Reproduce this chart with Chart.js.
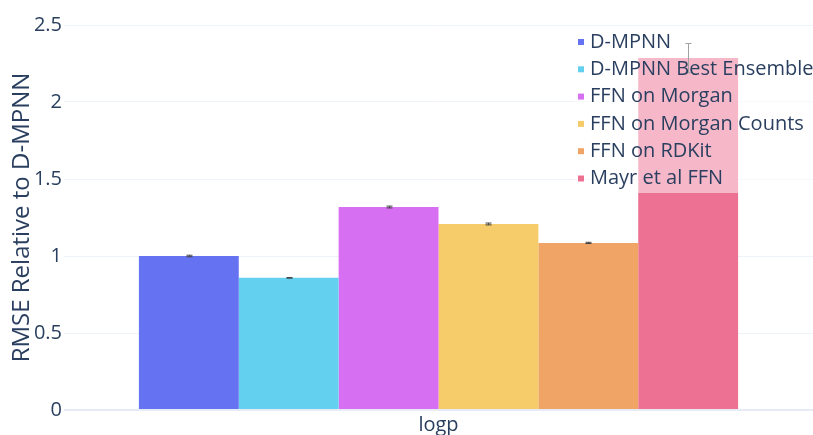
<!DOCTYPE html>
<html>
<head>
<meta charset="utf-8">
<script src="https://cdn.jsdelivr.net/npm/chart.js@4"></script>
<style>
  html, body { margin: 0; padding: 0; background: #fff; }
  #wrap { width: 813px; height: 435px; }
</style>
</head>
<body>
<div id="wrap"><canvas id="chart" width="813" height="435"></canvas></div>
<script>
const categories = ["logp"];
const seriesNames = ["D-MPNN", "D-MPNN Best Ensemble", "FFN on Morgan", "FFN on Morgan Counts", "FFN on RDKit", "Mayr et al FFN"];
const seriesValues = [1.0, 0.858, 1.318, 1.208, 1.085, 2.285];
const seriesErrors = [0.005, 0.002, 0.006, 0.006, 0.004, 0.095];
const seriesColors = ["#6573f2", "#62d0ee", "#d66ff2", "#f6cb6a", "#f0a567", "#ec7193"];
const yTicks = [0, 0.5, 1, 1.5, 2, 2.5];

const FONT = "'Open Sans', sans-serif";
const TEXT = "#2a3f5f";

// error bars on top of each bar
const errorBars = {
    id: "errorBars",
    afterDatasetsDraw(chart) {
        const ctx = chart.ctx;
        const y = chart.scales.y;
        ctx.save();
        ctx.strokeStyle = "#444";
        ctx.lineWidth = 1;
        chart.data.datasets.forEach((ds, i) => {
            const bar = chart.getDatasetMeta(i).data[0];
            const v = ds.data[0];
            const e = seriesErrors[i];
            const top = y.getPixelForValue(v + e);
            const bot = y.getPixelForValue(v - e);
            const x = Math.round(bar.x) + 0.5;
            ctx.beginPath();
            ctx.moveTo(x, top); ctx.lineTo(x, bot);
            ctx.moveTo(x - 3, top); ctx.lineTo(x + 3, top);
            ctx.moveTo(x - 3, bot); ctx.lineTo(x + 3, bot);
            ctx.stroke();
        });
        ctx.restore();
    }
};

// legend drawn over the plot with a half-transparent background
const overlayLegend = {
    id: "overlayLegend",
    afterDraw(chart) {
        const ctx = chart.ctx;
        const left = 574, top = 28, right = 813, bottom = 193;
        ctx.save();
        ctx.fillStyle = "rgba(255,255,255,0.5)";
        ctx.fillRect(left, top, right - left, bottom - top);
        ctx.font = "20px " + FONT;
        ctx.textBaseline = "middle";
        seriesNames.forEach((name, i) => {
            const cy = 42 + i * 27.3;
            ctx.fillStyle = seriesColors[i];
            ctx.fillRect(578, cy - 3, 6, 6);
            ctx.fillStyle = TEXT;
            ctx.fillText(name, 590, cy);
        });
        ctx.restore();
    }
};

new Chart(document.getElementById("chart"), {
    type: "bar",
    data: {
        labels: categories,
        datasets: seriesNames.map((name, i) => ({
            label: name,
            data: [seriesValues[i]],
            backgroundColor: seriesColors[i],
            borderWidth: 0
        }))
    },
    options: {
        responsive: false,
        animation: false,
        layout: { padding: { top: 25, right: 0, left: 0, bottom: 0 } },
        datasets: { bar: { categoryPercentage: 0.8, barPercentage: 1.0 } },
        plugins: {
            legend: { display: false },
            tooltip: { enabled: false }
        },
        scales: {
            x: {
                grid: { display: false },
                border: { display: false },
                ticks: { color: TEXT, font: { family: FONT, size: 20 }, padding: -5 },
                afterFit(scale) { scale.height = 25; }
            },
            y: {
                min: 0,
                max: 2.5,
                afterBuildTicks(scale) { scale.ticks = yTicks.map(v => ({ value: v })); },
                grid: {
                    color: ctx => ctx.tick && ctx.tick.value === 0 ? "#e6ebf5" : "#eef2f9",
                    lineWidth: ctx => ctx.tick && ctx.tick.value === 0 ? 2 : 1,
                    drawTicks: false
                },
                border: { display: false },
                ticks: {
                    color: TEXT,
                    font: { family: FONT, size: 20 },
                    padding: 2,
                    callback: v => String(v)
                },
                title: {
                    display: true,
                    text: "RMSE Relative to D-MPNN",
                    color: TEXT,
                    font: { family: FONT, size: 24 },
                    padding: { top: 8, bottom: 0 }
                },
                afterFit(scale) { scale.width = 64; }
            }
        }
    },
    plugins: [errorBars, overlayLegend]
});
</script>
</body>
</html>
